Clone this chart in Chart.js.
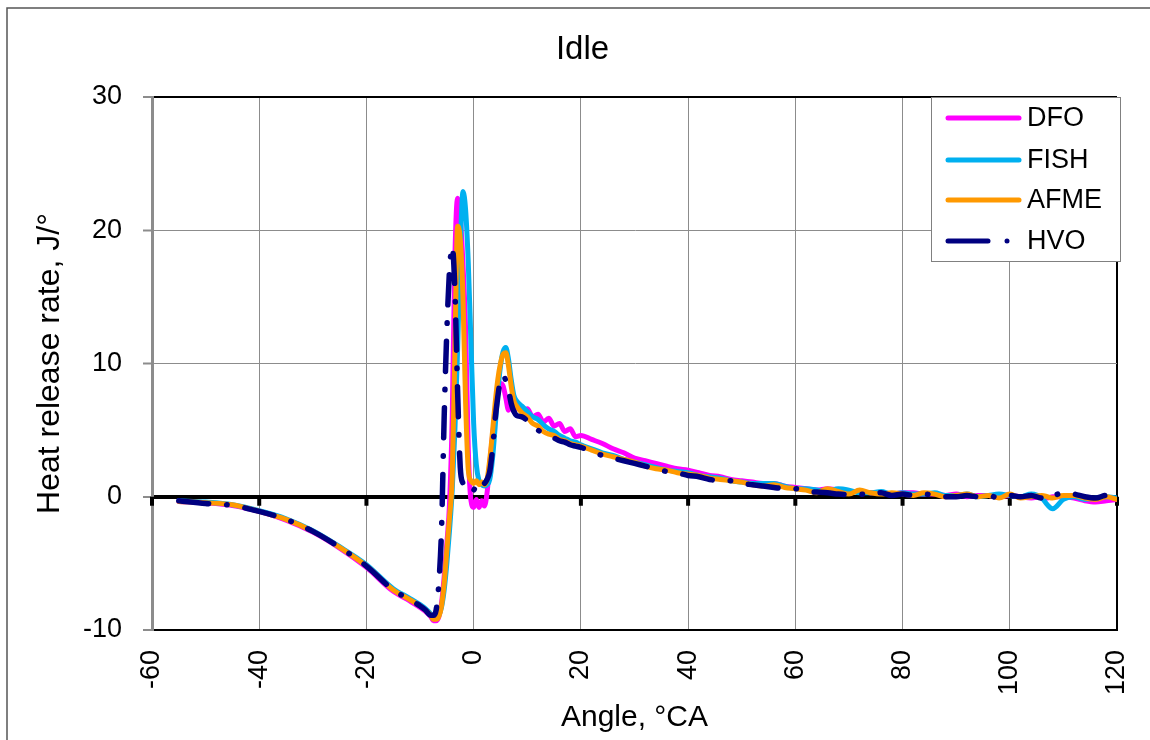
<!DOCTYPE html>
<html>
<head>
<meta charset="utf-8">
<script src="https://cdn.jsdelivr.net/npm/chart.js@4"></script>
<style>
  html, body { margin: 0; padding: 0; background: #fff; }
</style>
</head>
<body>
<canvas id="chart" width="1150" height="740"></canvas>
<script>
// Crank angle (°CA) - finer steps around the combustion peaks
const angles = [
  -55, -50, -45, -40, -35, -30, -25, -20, -15, -12, -10, -9, -8,
  -7.5, -7, -6.5, -6, -5.5, -5, -4.5, -4, -3.5, -3, -2.5, -2, -1.5, -1, -0.5, 0,
  0.5, 1, 1.5, 2, 2.5, 3, 3.5, 4, 4.5, 5, 5.5, 6, 6.5, 7, 7.5, 8,
  9, 10, 11, 12, 13, 14, 15, 16, 17, 18, 19, 20,
  22, 24, 26, 28, 30, 32, 34, 36, 38, 40, 42, 44, 46, 48, 50, 52, 54, 56, 58, 60,
  62, 64, 66, 68, 70, 72, 74, 76, 78, 80, 82, 84, 86, 88, 90, 92, 94, 96, 98, 100,
  102, 104, 106, 107, 108, 110, 112, 114, 116, 118, 120
];

// Heat release rate, J/°
const dfo = [
  -0.35, -0.45, -0.65, -1.1, -1.75, -2.65, -3.85, -5.3, -7.1, -7.8, -8.3, -8.6, -9.0,
  -9.3, -9.3, -9.0, -8.0, -6.0, -3.5, -0.5, 6, 18, 22.4, 21, 17.5, 12.5, 3.5, -0.3, -0.8,
  -0.2, -0.8, -0.3, -0.7, 0.3, 2.5, 4.5, 6.3, 7.8, 8.5, 8.3, 7.4, 6.5, 7.0, 6.4, 6.9,
  6.4, 6.6, 6.0, 6.2, 5.6, 5.9, 5.3, 5.5, 4.9, 5.1, 4.5, 4.6,
  4.3, 4.0, 3.6, 3.3, 2.9, 2.7, 2.5, 2.3, 2.1, 2.0, 1.8, 1.6, 1.5, 1.3, 1.2, 1.1, 1.0, 1.0, 0.8, 0.7,
  0.6, 0.5, 0.6, 0.5, 0.4, 0.4, 0.3, 0.3, 0.2, 0.3, 0.3, 0.2, 0.2, 0.1, 0.2, 0.0, 0.1, 0.1, 0.0, 0.1,
  0.0, -0.1, 0.0, -0.1, 0.0, 0.0, -0.1, -0.3, -0.4, -0.3, -0.2
];
const fish = [
  -0.3, -0.4, -0.6, -1.05, -1.65, -2.55, -3.75, -5.1, -6.9, -7.6, -8.1, -8.4, -8.8,
  -9.1, -9.1, -8.9, -8.3, -7.0, -5.0, -2.5, 0.5, 5, 11, 18.5, 22.9, 21.5, 17.5, 11.5, 5.5,
  2.4, 1.2, 0.9, 0.8, 0.9, 1.3, 2.8, 5.2, 7.8, 9.8, 10.9, 11.2, 10.3, 8.8, 7.6, 7.2,
  6.8, 6.4, 6.0, 5.8, 5.4, 5.1, 4.9, 4.6, 4.4, 4.2, 4.1, 3.9,
  3.6, 3.3, 3.1, 2.8, 2.6, 2.4, 2.2, 2.0, 1.9, 1.8, 1.6, 1.5, 1.4, 1.2, 1.1, 1.0, 1.0, 1.0, 0.8, 0.6,
  0.6, 0.5, 0.4, 0.6, 0.5, 0.3, 0.3, 0.4, 0.2, 0.3, 0.2, 0.2, 0.3, 0.1, 0.1, 0.2, 0.0, 0.1, 0.2, 0.1,
  0.0, 0.2, -0.1, -0.6, -0.9, -0.2, 0.0, -0.2, -0.1, 0.0, -0.1
];
const afme = [
  -0.35, -0.45, -0.6, -1.1, -1.7, -2.6, -3.8, -5.2, -7.0, -7.7, -8.2, -8.5, -8.9,
  -9.2, -9.2, -9.0, -8.2, -6.5, -4.0, -1.5, 1.5, 11, 20.3, 19.3, 15, 7, 2.0, 1.2, 1.0,
  1.2, 0.9, 1.1, 0.9, 1.3, 2.8, 4.8, 7.0, 8.8, 10.0, 10.7, 10.8, 9.8, 8.3, 7.2, 6.8,
  6.3, 6.0, 5.5, 5.3, 4.9, 4.7, 4.6, 4.3, 4.2, 4.0, 3.9, 3.8,
  3.5, 3.2, 3.0, 2.8, 2.6, 2.3, 2.1, 2.0, 1.8, 1.7, 1.6, 1.4, 1.3, 1.2, 1.1, 0.9, 0.8, 0.9, 0.7, 0.6,
  0.5, 0.3, 0.6, 0.4, 0.2, 0.5, 0.3, 0.2, 0.3, 0.2, 0.1, 0.3, 0.2, 0.0, 0.1, 0.2, 0.0, 0.1, -0.1, 0.2,
  -0.1, 0.0, 0.1, 0.0, -0.1, 0.1, 0.1, -0.1, -0.2, 0.0, -0.2
];
const hvo = [
  -0.3, -0.5, -0.65, -1.1, -1.7, -2.6, -3.8, -5.2, -7.0, -7.7, -8.2, -8.5, -8.9,
  -8.9, -8.5, -6.5, -2.5, 6, 12.5, 17, 18.8, 15.5, 8, 2.2, 1.0, 0.7, 0.6, 0.8, 0.5,
  0.9, 0.6, 0.9, 1.0, 1.3, 1.9, 3.5, 5.8, 7.5, 8.8, 9.1, 8.7, 8.0, 7.0, 6.4, 6.1,
  6.0, 5.7, 5.2, 5.0, 4.7, 4.5, 4.4, 4.2, 4.1, 3.9, 3.8, 3.7,
  3.4, 3.1, 2.9, 2.7, 2.5, 2.3, 2.1, 1.9, 1.8, 1.6, 1.5, 1.3, 1.2, 1.2, 1.0, 0.9, 0.8, 0.7, 0.6, 0.6,
  0.4, 0.35, 0.3, 0.2, 0.15, 0.2, 0.1, 0.3, 0.1, 0.2, 0.1, 0.2, 0.1, 0.0, 0.0, 0.1, 0.0, 0.1, -0.1, 0.1,
  0.0, 0.1, -0.1, 0.2, 0.1, 0.3, 0.2, 0.0, -0.1, 0.1, -0.2
];

const xTicks = [-60, -40, -20, 0, 20, 40, 60, 80, 100, 120];
const yTicks = [-10, 0, 10, 20, 30];

const FONT = 'Liberation Sans, Arial, sans-serif';

function toPoints(values) {
  return angles.map((a, i) => ({ x: a, y: values[i] }));
}

// cadre de l'image + petites graduations noires sur la ligne zéro
const framePlugin = {
  id: 'framePlugin',
  beforeDraw(chart) {
    const c = chart.ctx;
    c.save();
    c.fillStyle = '#ffffff';
    c.fillRect(0, 0, chart.width, chart.height);
    c.strokeStyle = '#555555';
    c.lineWidth = 1.5;
    c.beginPath();
    c.moveTo(7, chart.height);
    c.lineTo(7, 8);
    c.lineTo(chart.width, 8);
    c.stroke();
    c.restore();
  },
  beforeDatasetsDraw(chart) {
    const c = chart.ctx;
    const x = chart.scales.x;
    const y0 = chart.scales.y.getPixelForValue(0);
    c.save();
    c.fillStyle = '#000';
    xTicks.forEach(v => {
      const px = x.getPixelForValue(v);
      c.fillRect(px - 2, y0, 4, 9);
    });
    c.restore();
  }
};

// légende encadrée dans le coin haut-droit de la zone de tracé
const legendPlugin = {
  id: 'boxLegend',
  afterDraw(chart) {
    const c = chart.ctx;
    const area = chart.chartArea;
    const left = area.right - 186;
    const top = area.top;
    c.save();
    c.fillStyle = '#fff';
    c.fillRect(left, top, 189, 164);
    c.strokeStyle = '#808080';
    c.lineWidth = 1;
    c.strokeRect(left + 0.5, top + 0.5, 189, 164);
    const rows = [21, 63, 103, 144];
    chart.data.datasets.forEach((ds, i) => {
      const y = top + rows[i];
      c.strokeStyle = ds.borderColor;
      c.lineWidth = 5;
      c.lineCap = 'round';
      c.beginPath();
      if (ds.borderDash && ds.borderDash.length) {
        c.moveTo(left + 17, y);
        c.lineTo(left + 57, y);
        c.stroke();
        c.fillStyle = ds.borderColor;
        c.beginPath();
        c.arc(left + 76, y, 2.5, 0, Math.PI * 2);
        c.fill();
      } else {
        c.moveTo(left + 17, y);
        c.lineTo(left + 88, y);
        c.stroke();
      }
      c.fillStyle = '#000';
      c.font = '27px ' + FONT;
      c.textBaseline = 'middle';
      c.fillText(ds.label, left + 96, y + 1);
    });
    c.restore();
  }
};

const ctx = document.getElementById('chart').getContext('2d');
new Chart(ctx, {
  type: 'line',
  data: {
    datasets: [
      { label: 'DFO', data: toPoints(dfo), borderColor: '#FF00FF', borderWidth: 5, order: 4 },
      { label: 'FISH', data: toPoints(fish), borderColor: '#00B0F0', borderWidth: 5, order: 3 },
      { label: 'AFME', data: toPoints(afme), borderColor: '#FF9900', borderWidth: 5, order: 2 },
      { label: 'HVO', data: toPoints(hvo), borderColor: '#000080', borderWidth: 5.5, order: 1,
        borderDash: [30, 18, 0.5, 18] }
    ]
  },
  options: {
    responsive: false,
    animation: false,
    layout: { padding: { left: 48, right: 33, top: 0, bottom: 0 } },
    elements: {
      point: { radius: 0 },
      line: { cubicInterpolationMode: 'monotone', borderCapStyle: 'round', borderJoinStyle: 'round', fill: false }
    },
    plugins: {
      legend: { display: false },
      tooltip: { enabled: false },
      title: {
        display: true,
        text: 'Idle',
        color: '#000',
        font: { family: FONT, size: 33, weight: 'normal' },
        padding: { top: 30, bottom: 27.4 }
      }
    },
    scales: {
      x: {
        type: 'linear',
        min: -60,
        max: 120,
        afterBuildTicks(scale) { scale.ticks = xTicks.map(v => ({ value: v })); },
        afterFit(scale) { scale.height = 110; scale.paddingLeft = 0; scale.paddingRight = 0; },
        ticks: { minRotation: 90, maxRotation: 90, padding: 20, color: '#000', font: { family: FONT, size: 27 } },
        grid: {
          color: c => c.tick && c.tick.value === 120 ? '#000' : '#8c8c8c',
          lineWidth: c => c.tick && c.tick.value === 120 ? 2 : 1,
          drawTicks: false
        },
        border: { display: true, color: '#000', width: 2 },
        title: { display: true, text: 'Angle, °CA', color: '#000', font: { family: FONT, size: 30 }, padding: { top: 0, bottom: 4 } }
      },
      y: {
        min: -10,
        max: 30,
        afterBuildTicks(scale) { scale.ticks = yTicks.map(v => ({ value: v })); },
        afterFit(scale) { scale.width = 104; scale.paddingTop = 0; scale.paddingBottom = 0; },
        ticks: { padding: 21, color: '#000', font: { family: FONT, size: 27 } },
        grid: {
          color: c => (c.tick && (c.tick.value === 0 || c.tick.value === 30 || c.tick.value === -10)) ? '#000' : '#8c8c8c',
          lineWidth: c => c.tick && c.tick.value === 0 ? 4 : ((c.tick && (c.tick.value === 30 || c.tick.value === -10)) ? 2 : 1),
          tickLength: 9,
          tickColor: '#8c8c8c',
          tickWidth: 2
        },
        border: { color: '#8c8c8c', width: 3 },
        title: { display: true, text: 'Heat release rate, J/°', color: '#000', font: { family: FONT, size: 32 }, padding: { top: -17, bottom: 0 } }
      }
    }
  },
  plugins: [framePlugin, legendPlugin]
});
</script>
</body>
</html>
